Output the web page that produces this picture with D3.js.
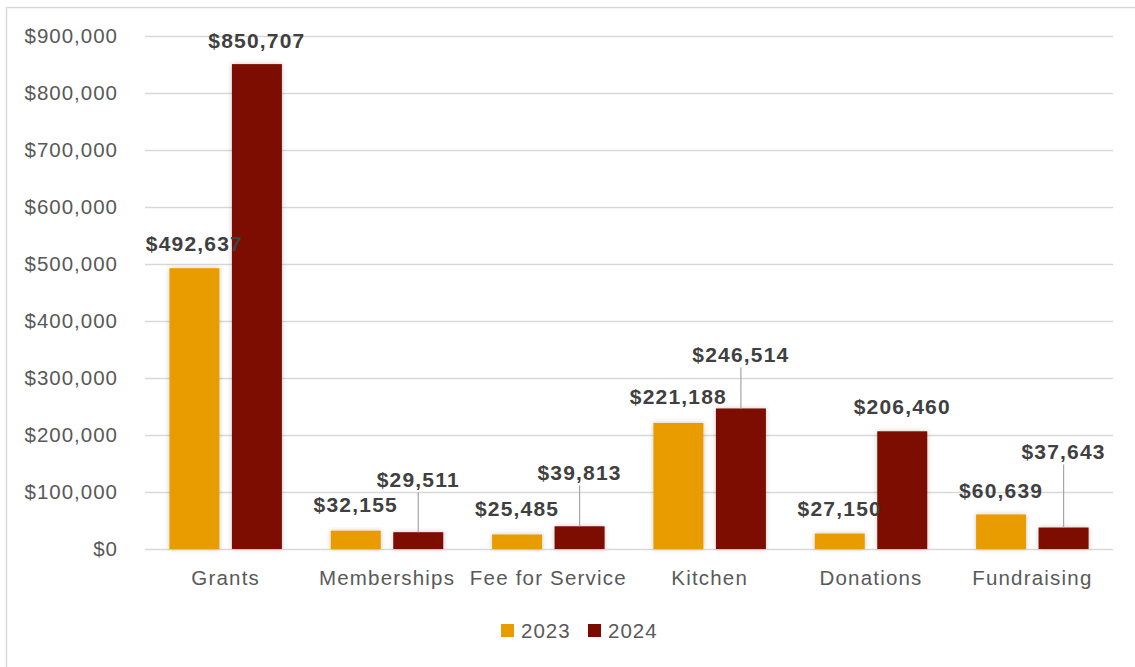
<!DOCTYPE html>
<html>
<head>
<meta charset="utf-8">
<script src="https://cdn.jsdelivr.net/npm/d3@7"></script>
<style>
  html, body { margin: 0; padding: 0; background: #fff; }
  svg { display: block; font-family: "Liberation Sans", Arial, sans-serif; }
</style>
</head>
<body>
<svg id="chart" width="1135" height="667"></svg>
<script>
// Revenue by source, 2023 vs 2024
const categories = ["Grants", "Memberships", "Fee for Service", "Kitchen", "Donations", "Fundraising"];
const seriesNames = ["2023", "2024"];
const values2023 = [492637, 32155, 25485, 221188, 27150, 60639];
const values2024 = [850707, 29511, 39813, 246514, 206460, 37643];
const yTicks = [0, 100000, 200000, 300000, 400000, 500000, 600000, 700000, 800000, 900000];

// Label placement: pixels above the bar top, and whether a leader line is drawn
const labelLift = {
  "2023": [25, 26, 26, 26, 25, 24],
  "2024": [24, 53, 54, 54, 25, 76]
};
const leader = {
  "2023": [false, false, false, false, false, false],
  "2024": [false, true, true, true, false, true]
};

const colors = { "2023": "#E89C00", "2024": "#7B0A00" };
const seriesValues = { "2023": values2023, "2024": values2024 };

const svg = d3.select("#chart");
const margin = { left: 145, right: 22, top: 36, bottom: 118 };
const W = 1135, H = 667;
const plotW = W - margin.left - margin.right;

// Outer frame (right and bottom edges fall outside the view)
svg.append("rect")
  .attr("x", 6.5).attr("y", 7.5)
  .attr("width", 1140).attr("height", 700)
  .attr("fill", "none").attr("stroke", "#d9d9d9").attr("stroke-width", 1.5);

const defs = svg.append("defs");
const f = defs.append("filter").attr("id", "shadow")
  .attr("x", "-20%").attr("y", "-20%").attr("width", "140%").attr("height", "140%");
f.append("feDropShadow").attr("dx", 0).attr("dy", 0).attr("stdDeviation", 2.5)
  .attr("flood-color", "#000").attr("flood-opacity", 0.22);

const y = d3.scaleLinear().domain([0, 900000]).range([549, 36]);
const x0 = d3.scaleBand().domain(categories).range([margin.left, margin.left + plotW]).padding(0);
const groupW = 112.5;
const x1 = d3.scaleBand().domain(seriesNames)
  .range([(x0.bandwidth() - groupW) / 2, (x0.bandwidth() + groupW) / 2])
  .paddingInner(0.2);

const fmt = v => "$" + d3.format(",")(v);

// Gridlines and y axis labels
const yAxis = d3.axisLeft(y).tickValues(yTicks).tickFormat(fmt)
  .tickSize(-plotW).tickPadding(27);
const gy = svg.append("g").attr("transform", `translate(${margin.left},0)`).call(yAxis);
gy.select(".domain").remove();
gy.selectAll(".tick line").attr("stroke", "#d9d9d9").attr("stroke-width", 1.5);
gy.selectAll(".tick text")
  .attr("fill", "#595959").style("font-size", "20.5px").style("letter-spacing", "1px")
  .attr("font-family", "Liberation Sans, Arial, sans-serif");

// Category axis labels
const xAxis = d3.axisBottom(x0).tickSize(0).tickPadding(21);
const gx = svg.append("g").attr("transform", `translate(0,549)`).call(xAxis);
gx.select(".domain").remove();
gx.selectAll(".tick text")
  .attr("fill", "#595959").style("font-size", "20.5px").style("letter-spacing", "1.2px")
  .attr("font-family", "Liberation Sans, Arial, sans-serif");

// Bars
const rows = [];
categories.forEach((c, i) => {
  seriesNames.forEach(s => rows.push({ cat: c, series: s, value: seriesValues[s][i], idx: i }));
});

const bars = svg.append("g");
bars.selectAll("rect").data(rows).join("rect")
  .attr("x", d => x0(d.cat) + x1(d.series))
  .attr("y", d => y(d.value))
  .attr("width", x1.bandwidth())
  .attr("height", d => y(0) - y(d.value))
  .attr("fill", d => colors[d.series])
  .attr("filter", "url(#shadow)");

// Leader lines
const labels = svg.append("g");
labels.selectAll("line").data(rows.filter(d => leader[d.series][d.idx])).join("line")
  .attr("x1", d => x0(d.cat) + x1(d.series) + x1.bandwidth() / 2)
  .attr("x2", d => x0(d.cat) + x1(d.series) + x1.bandwidth() / 2)
  .attr("y1", d => y(d.value) - labelLift[d.series][d.idx] + 13)
  .attr("y2", d => y(d.value))
  .attr("stroke", "#a6a6a6").attr("stroke-width", 1.2);

// Value labels
labels.selectAll("text").data(rows).join("text")
  .attr("x", d => x0(d.cat) + x1(d.series) + x1.bandwidth() / 2)
  .attr("y", d => y(d.value) - labelLift[d.series][d.idx])
  .attr("dy", "0.36em")
  .attr("text-anchor", "middle")
  .attr("fill", "#404040")
  .style("font-size", "21px").style("font-weight", "bold").style("letter-spacing", "1.2px")
  .text(d => fmt(d.value));

// Legend
const legend = svg.append("g").attr("transform", "translate(0,631)");
const legendItems = [{ s: "2023", x: 501 }, { s: "2024", x: 588 }];
legendItems.forEach(it => {
  legend.append("rect").attr("x", it.x).attr("y", -7).attr("width", 13).attr("height", 13)
    .attr("fill", colors[it.s]);
  legend.append("text").attr("x", it.x + 20).attr("y", 0).attr("dy", "0.36em")
    .attr("fill", "#595959").style("font-size", "20.5px").style("letter-spacing", "1px")
    .text(it.s);
});
</script>
</body>
</html>
